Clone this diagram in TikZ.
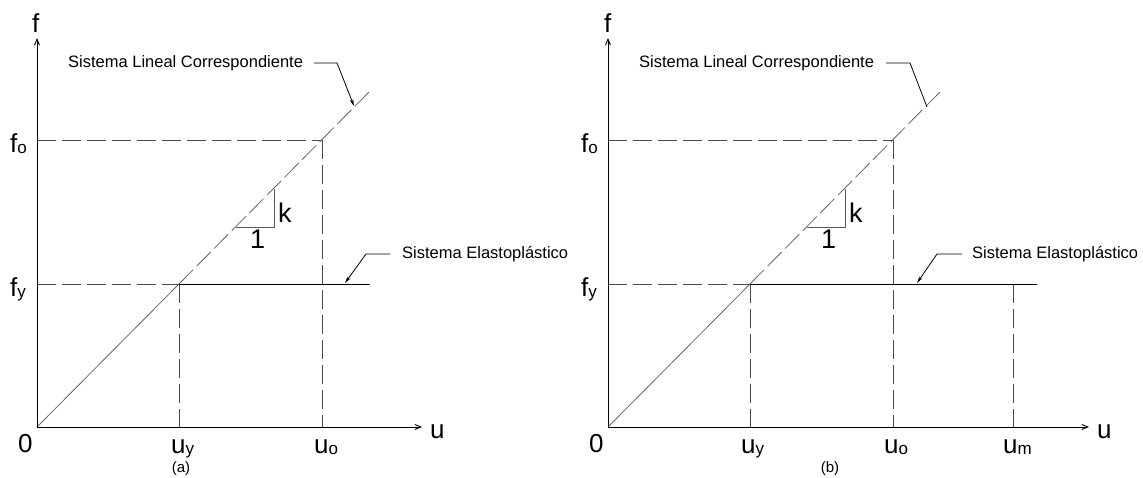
\documentclass[tikz,border=0pt]{standalone}
\usepackage{fontspec}
\setmainfont{Liberation Sans}
\usetikzlibrary{arrows.meta}
\tikzset{
 axis/.style={black, line width=0.9pt, -{Straight Barb[length=6pt,width=5pt]}},
 guide/.style={black!70, line width=0.8pt, dash pattern=on 19pt off 6pt},
 curve/.style={black!60, line width=0.8pt},
 curvedash/.style={black!60, line width=0.8pt, dash pattern=on 20pt off 5pt},
 plastic/.style={black, line width=0.8pt},
 leader/.style={black, line width=0.8pt},
 leadarrow/.style={leader, -{Stealth[length=7pt,width=3.5pt]}},
 big/.style={font=\fontsize{26}{26}\selectfont, inner sep=0pt},
 slopelab/.style={font=\fontsize{27}{27}\selectfont, inner sep=0pt},
 note/.style={font=\fontsize{16.5}{16.5}\selectfont, inner sep=0pt},
 caption/.style={font=\fontsize{15}{15}\selectfont, inner sep=0pt},
 slopeleg/.style={black!65, line width=0.8pt},
}
\newcommand{\sublab}[2]{#1\raisebox{-1.5pt}{\fontsize{17}{17}\selectfont #2}}
\begin{document}
\begin{tikzpicture}[x=1pt,y=-1pt]
\useasboundingbox (0,0) rectangle (1143,477);
% ================= panel (a) =================
\coordinate (aO) at (37,427);
\coordinate (aFtop) at (37,38);
\coordinate (aUend) at (422,427);
\coordinate (aFo) at (37,140);
\coordinate (aFy) at (37,284);
\coordinate (aY) at (179,284);
\coordinate (aUy) at (179,427);
\coordinate (aP) at (322,140);
\coordinate (aUo) at (322,427);
\coordinate (aEnd) at (370,91);
\coordinate (aPe) at (370,284);
\coordinate (aT1) at (236,227);
\coordinate (aT2) at (274,227);
\coordinate (aT3) at (274,189);
% guides
\draw[guide] (aFo) -- (aP);
\draw[guide] (aP) -- (aUo);
\draw[guide] (aFy) -- (aY);
\draw[guide] (aY) -- (aUy);
% curves
\draw[curve] (aO) -- (aY);
\draw[curvedash] (aY) -- (aEnd);
\draw[plastic] (aY) -- (aPe);
% slope triangle
\draw[slopeleg] (aT1) -- (aT2) -- (aT3);
% axes
\draw[axis] (aO) -- (aFtop);
\draw[axis] (aO) -- (aUend);
% labels
\node[big, anchor=base west] (aLf) at (32,32) {f};
\node[big, anchor=base west] (aLu) at (430,438) {u};
\node[big, anchor=base west] (aL0) at (18,452) {0};
\node[big, anchor=base west] (aLfo) at (10,152) {\sublab{f}{o}};
\node[big, anchor=base west] (aLfy) at (10,296) {\sublab{f}{y}};
\node[big, anchor=base west] (aLuy) at (171,453) {\sublab{u}{y}};
\node[big, anchor=base west] (aLuo) at (314,453) {\sublab{u}{o}};
\node[slopelab, anchor=base west] (aLk) at (278,222) {k};
\node[slopelab, anchor=base west] (aL1) at (250,248) {1};
\node[caption] (aCap) at (181,469) {(a)};
% notes
\node[note, anchor=west] (aN1) at (68,63) {Sistema Lineal Correspondiente};
\coordinate (aN1a) at (314,63);
\coordinate (aN1b) at (337,63);
\coordinate (aN1c) at (354,106);
\draw[leadarrow] (aN1a) -- (aN1b) -- (aN1c);
\node[note, anchor=west] (aN2) at (402,254) {Sistema Elastoplástico};
\coordinate (aN2a) at (390,254);
\coordinate (aN2b) at (366,254);
\coordinate (aN2c) at (345,283);
\draw[leadarrow] (aN2a) -- (aN2b) -- (aN2c);
% ================= panel (b) =================
\coordinate (bO) at (608,427);
\coordinate (bFtop) at (608,38);
\coordinate (bUend) at (1089,427);
\coordinate (bFo) at (608,140);
\coordinate (bFy) at (608,284);
\coordinate (bY) at (750,284);
\coordinate (bUy) at (750,427);
\coordinate (bP) at (893,140);
\coordinate (bUo) at (893,427);
\coordinate (bM) at (1013,284);
\coordinate (bUm) at (1013,427);
\coordinate (bEnd) at (941,91);
\coordinate (bPe) at (1037,284);
\coordinate (bT1) at (807,227);
\coordinate (bT2) at (845,227);
\coordinate (bT3) at (845,189);
\draw[guide] (bFo) -- (bP);
\draw[guide] (bP) -- (bUo);
\draw[guide] (bFy) -- (bY);
\draw[guide] (bY) -- (bUy);
\draw[guide] (bM) -- (bUm);
\draw[curve] (bO) -- (bY);
\draw[curvedash] (bY) -- (bEnd);
\draw[plastic] (bY) -- (bPe);
\draw[slopeleg] (bT1) -- (bT2) -- (bT3);
\draw[axis] (bO) -- (bFtop);
\draw[axis] (bO) -- (bUend);
\node[big, anchor=base west] (bLf) at (604,32) {f};
\node[big, anchor=base west] (bLu) at (1097,438) {u};
\node[big, anchor=base west] (bL0) at (589,452) {0};
\node[big, anchor=base west] (bLfo) at (581,152) {\sublab{f}{o}};
\node[big, anchor=base west] (bLfy) at (581,296) {\sublab{f}{y}};
\node[big, anchor=base west] (bLuy) at (741,453) {\sublab{u}{y}};
\node[big, anchor=base west] (bLuo) at (884,453) {\sublab{u}{o}};
\node[big, anchor=base west] (bLum) at (1003,453) {\sublab{u}{m}};
\node[slopelab, anchor=base west] (bLk) at (849,222) {k};
\node[slopelab, anchor=base west] (bL1) at (821,248) {1};
\node[caption] (bCap) at (830,469) {(b)};
\node[note, anchor=west] (bN1) at (639,63) {Sistema Lineal Correspondiente};
\coordinate (bN1a) at (886,63);
\coordinate (bN1b) at (910,63);
\coordinate (bN1c) at (927,107);
\draw[leader] (bN1a) -- (bN1b) -- (bN1c);
\node[note, anchor=west] (bN2) at (972,254) {Sistema Elastoplástico};
\coordinate (bN2a) at (962,254);
\coordinate (bN2b) at (937,254);
\coordinate (bN2c) at (917,283);
\draw[leadarrow] (bN2a) -- (bN2b) -- (bN2c);
\end{tikzpicture}
\end{document}
